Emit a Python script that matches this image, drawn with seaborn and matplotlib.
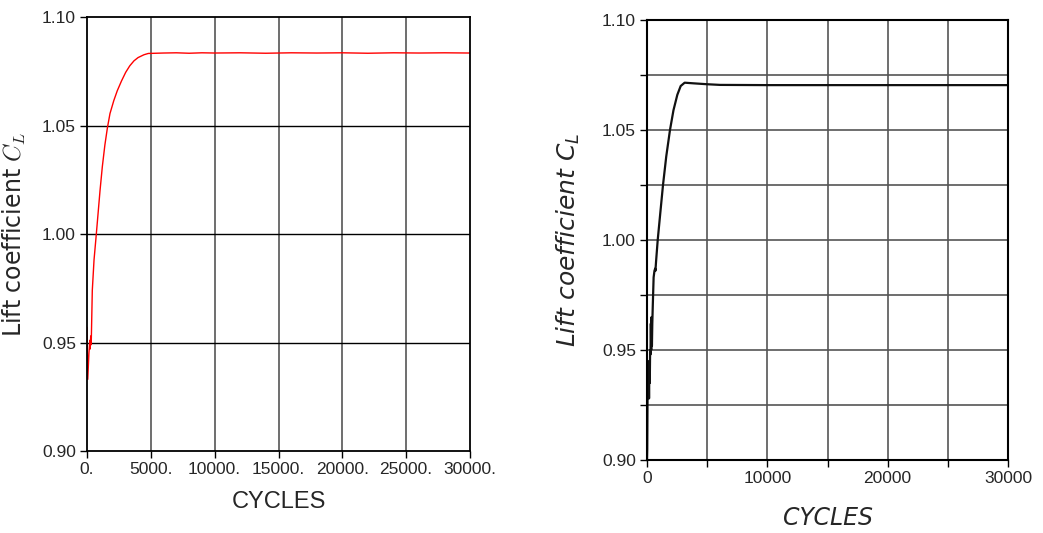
import numpy as np
import pandas as pd
import matplotlib
matplotlib.use("Agg")
import matplotlib.pyplot as plt
import seaborn as sns
from matplotlib.ticker import MultipleLocator, FixedLocator

# ---- data ----
cycles_left = [0, 60, 150, 220, 250, 290, 330, 415, 550, 730, 1020, 1200, 1400,
               1600, 1800, 2100, 2370, 2700, 3030, 3350, 3680, 4000, 4460, 4800,
               6000, 7000, 8000, 9000, 10000, 12000, 14000, 16000, 18000, 20000,
               22000, 24000, 26000, 28000, 30000]
cl_left = [0.957, 0.933, 0.945, 0.951, 0.947, 0.953, 0.949, 0.974, 0.988, 1.000,
           1.020, 1.031, 1.041, 1.049, 1.0555, 1.0615, 1.0660, 1.0705, 1.0745,
           1.0775, 1.0798, 1.0813, 1.0826, 1.0832, 1.0834,
           1.0835, 1.0833, 1.0835, 1.0834, 1.0835, 1.0833, 1.0835, 1.0834, 1.0835,
           1.0833, 1.0835, 1.0834, 1.0835, 1.0834]

cycles_right = [0, 20, 40, 80, 110, 140, 170, 200, 230, 260, 290, 320, 350, 380,
                410, 440, 480, 550, 620, 680, 700, 750, 890, 1100, 1330, 1600, 1910,
                2200, 2520, 2800, 3130, 3900, 5000, 6070, 10000, 20000, 30000]
cl_right = [0.900, 0.905, 0.925, 0.945, 0.930, 0.940, 0.928, 0.942, 0.935, 0.950,
            0.948, 0.962, 0.950, 0.965, 0.952, 0.962, 0.970, 0.983, 0.986, 0.987,
            0.986, 0.990, 1.000, 1.012, 1.025, 1.038, 1.050, 1.059, 1.066, 1.070,
            1.0715, 1.0712, 1.0708, 1.0705, 1.0704, 1.0704, 1.0704]

left_xticks = [0, 5000, 10000, 15000, 20000, 25000, 30000]
left_xlabels = ["0.", "5000.", "10000.", "15000.", "20000.", "25000.", "30000."]
yticks = [0.90, 0.95, 1.00, 1.05, 1.10]
ylabels = ["0.90", "0.95", "1.00", "1.05", "1.10"]
right_xticks = [0, 10000, 20000, 30000]

df_l = pd.DataFrame({"CYCLES": cycles_left, "CL": cl_left})
df_r = pd.DataFrame({"CYCLES": cycles_right, "CL": cl_right})

sns.set_theme(style="white")
plt.rcParams["font.family"] = ["Liberation Sans", "DejaVu Sans"]
plt.rcParams["mathtext.fontset"] = "custom"
plt.rcParams["mathtext.it"] = "DejaVu Sans:italic"
plt.rcParams["mathtext.rm"] = "DejaVu Sans"

fig = plt.figure(figsize=(10.43, 5.33), dpi=100)
ax1 = fig.add_axes([87/1043, 1-451/533, (470-87)/1043, (451-17)/533])
ax2 = fig.add_axes([647/1043, 1-460/533, (1008-647)/1043, (460-20)/533])

# ---- left panel ----
sns.lineplot(data=df_l, x="CYCLES", y="CL", ax=ax1, color="#ff0000",
             linewidth=1.0, sort=False, estimator=None)
ax1.set_xlim(0, 30000)
ax1.set_ylim(0.90, 1.10)
ax1.set_xticks(left_xticks)
ax1.set_xticklabels(left_xlabels)
ax1.set_yticks(yticks)
ax1.set_yticklabels(ylabels)
for x in left_xticks[1:-1]:
    ax1.axvline(x, color="#555555", lw=1.2, zorder=0)
for y in yticks[1:-1]:
    ax1.axhline(y, color="#000000", lw=1.0, zorder=0)
ax1.tick_params(axis="both", direction="out", length=5, width=1, color="black",
                labelsize=12.5, bottom=True, left=True, pad=3)
for s in ax1.spines.values():
    s.set_color("black"); s.set_linewidth(1.3)
ax1.set_xlabel("CYCLES", fontsize=17, labelpad=10)
ax1.set_ylabel("Lift coefficient $C_L$", fontsize=17, labelpad=10,
               family="DejaVu Sans", math_fontfamily="cm")

# ---- right panel ----
sns.lineplot(data=df_r, x="CYCLES", y="CL", ax=ax2, color="#111111",
             linewidth=1.6, sort=False, estimator=None)
ax2.set_xlim(0, 30000)
ax2.set_ylim(0.90, 1.10)
ax2.xaxis.set_major_locator(FixedLocator(right_xticks))
ax2.xaxis.set_minor_locator(MultipleLocator(5000))
ax2.yaxis.set_major_locator(FixedLocator(yticks))
ax2.yaxis.set_minor_locator(MultipleLocator(0.025))
ax2.set_yticklabels(ylabels)
ax2.grid(True, which="both", color="#555555", lw=1.2, zorder=0)
ax2.set_axisbelow(True)
ax2.tick_params(axis="both", which="both", direction="out", color="black",
                bottom=True, left=True)
ax2.tick_params(axis="both", which="major", length=5, width=1, labelsize=12.5, pad=3)
ax2.tick_params(axis="both", which="minor", length=5, width=1)
for s in ax2.spines.values():
    s.set_color("black"); s.set_linewidth(1.5)
ax2.set_xlabel("CYCLES", fontsize=17, style="italic", labelpad=14,
               family="DejaVu Sans")
ax2.set_ylabel("Lift coefficient $C_L$", fontsize=18, style="italic", labelpad=14,
               family="DejaVu Sans")

fig.savefig("out.png", dpi=100)
